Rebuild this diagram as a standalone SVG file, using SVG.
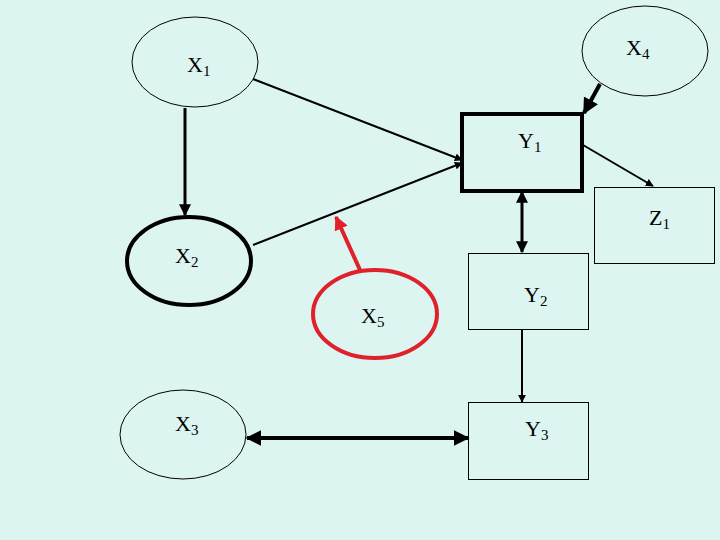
<svg xmlns="http://www.w3.org/2000/svg" width="720" height="540" viewBox="0 0 720 540">
<style>
.bg{fill:#ddf5f1}
.n{fill:none;stroke:#000;stroke-width:1}
.thick{fill:none;stroke:#000;stroke-width:4}
.red{fill:none;stroke:#e0202a;stroke-width:4}
.t{font-family:"Liberation Serif","Times New Roman",serif;font-size:22px;fill:#000}
.s{font-size:15px}
.c{fill:none;stroke:#000}
</style>
<defs>
<marker id="a" viewBox="0 0 10 10" refX="9" refY="5" markerWidth="4" markerHeight="4" orient="auto-start-reverse" markerUnits="strokeWidth"><path d="M0,0 L10,5 L0,10 z" fill="#000"/></marker>
<marker id="ar" viewBox="0 0 10 10" refX="9" refY="5" markerWidth="3.5" markerHeight="3.5" orient="auto" markerUnits="strokeWidth"><path d="M0,0 L10,5 L0,10 z" fill="#e0202a"/></marker>
</defs>
<rect class="bg" x="0" y="0" width="720" height="540"/>
<g id="connectors">
<line class="c" stroke-width="2" x1="253" y1="79" x2="462" y2="160" marker-end="url(#a)"/>
<line class="c" stroke-width="2" x1="253" y1="245" x2="462" y2="163" marker-end="url(#a)"/>
<line class="c" stroke-width="3" x1="185" y1="108" x2="185" y2="215" marker-end="url(#a)"/>
<line class="c" stroke-width="4" x1="600" y1="84" x2="584" y2="113" marker-end="url(#a)"/>
<line class="c" stroke-width="2" x1="583" y1="145" x2="653" y2="186" marker-end="url(#a)"/>
<line class="c" stroke-width="3" x1="522" y1="192" x2="522" y2="252" marker-start="url(#a)" marker-end="url(#a)"/>
<line class="c" stroke-width="2" x1="522" y1="329" x2="522" y2="402" marker-end="url(#a)"/>
<line class="c" stroke-width="4" x1="247" y1="438" x2="468" y2="438" marker-start="url(#a)" marker-end="url(#a)"/>
<line stroke="#e0202a" stroke-width="4" x1="360" y1="270" x2="336" y2="217" marker-end="url(#ar)"/>
</g>
<g id="X1"><ellipse class="n" cx="195" cy="62" rx="63" ry="45"/><text class="t" x="187" y="72">X<tspan class="s" dy="4">1</tspan></text></g>
<g id="X4"><ellipse class="n" cx="645" cy="51" rx="63" ry="45"/><text class="t" x="626" y="55">X<tspan class="s" dy="4">4</tspan></text></g>
<g id="Y1"><rect class="thick" x="462" y="114" width="120" height="77"/><text class="t" x="518" y="148">Y<tspan class="s" dy="4">1</tspan></text></g>
<g id="Z1"><rect class="n" x="594.5" y="187.5" width="120" height="76"/><text class="t" x="649" y="225">Z<tspan class="s" dy="4">1</tspan></text></g>
<g id="X2"><ellipse class="thick" cx="189" cy="261" rx="62" ry="44"/><text class="t" x="175" y="263">X<tspan class="s" dy="4">2</tspan></text></g>
<g id="X5"><ellipse class="red" cx="375" cy="314" rx="62" ry="44"/><text class="t" x="361" y="323">X<tspan class="s" dy="4">5</tspan></text></g>
<g id="Y2"><rect class="n" x="468.5" y="253.5" width="120" height="76"/><text class="t" x="524" y="302">Y<tspan class="s" dy="4">2</tspan></text></g>
<g id="X3"><ellipse class="n" cx="183" cy="434.5" rx="63" ry="44.5"/><text class="t" x="175" y="431">X<tspan class="s" dy="4">3</tspan></text></g>
<g id="Y3"><rect class="n" x="468.5" y="402.5" width="120" height="77"/><text class="t" x="525" y="436">Y<tspan class="s" dy="4">3</tspan></text></g>
</svg>
